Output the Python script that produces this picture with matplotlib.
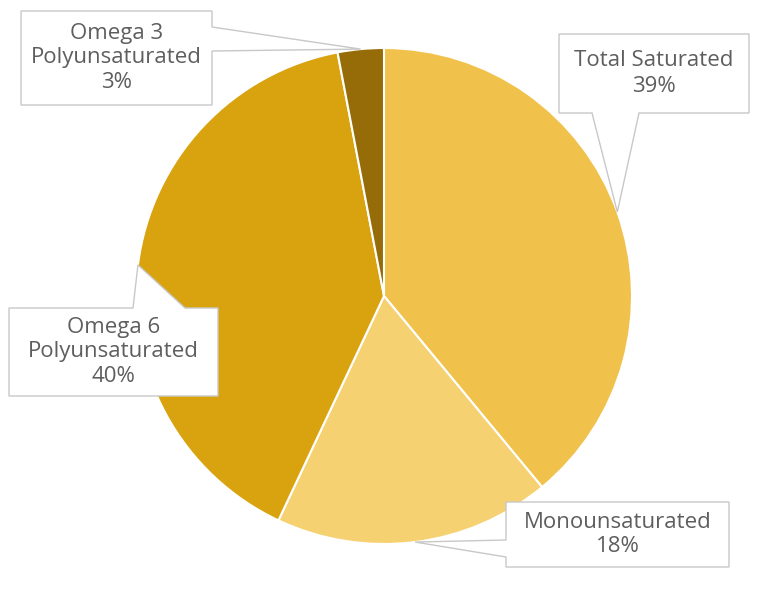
import numpy as np
import matplotlib.pyplot as plt
from matplotlib.patches import Polygon

labels = ['Total Saturated', 'Monounsaturated', 'Omega 6\nPolyunsaturated', 'Omega 3\nPolyunsaturated']
values = [39, 18, 40, 3]
colors = ['#F0C24B', '#F5D172', '#D9A30F', '#966C08']

W, H = 768, 592
CX, CY, R = 384, 296, 248


def fy(y):
    # pixel row (top-down) -> data y
    return H - y


fig = plt.figure(figsize=(W / 100, H / 100), dpi=100)
ax = fig.add_axes([0, 0, 1, 1])

ax.pie(values, colors=colors, startangle=90, counterclock=False,
       center=(CX, fy(CY)), radius=R,
       wedgeprops=dict(edgecolor='white', linewidth=1.5))

# slice midpoints on the rim -> callout tips
total = sum(values)
cum = np.cumsum([0] + values)
tips = []
for i in range(len(values)):
    mid = (cum[i] + cum[i + 1]) / 2 / total
    ang = np.deg2rad(90 - mid * 360)
    tips.append((CX + R * np.cos(ang), fy(CY) + R * np.sin(ang)))

# callout boxes: (left, top, right, bottom) in pixels, pointer side and base
boxes = [
    ((559, 34, 749, 113), 'bottom', (592, 639)),
    ((506, 502, 729, 567), 'left', (540, 557)),
    ((9, 308, 218, 396), 'top', (133, 185)),
    ((21, 11, 212, 105), 'right', (27, 51)),
]

for i, ((l, t, r, b), side, (p1, p2)) in enumerate(boxes):
    tx, ty = tips[i]
    if side == 'bottom':
        pts = [(l, t), (r, t), (r, b), (p2, b), None, (p1, b), (l, b)]
    elif side == 'left':
        pts = [(l, t), (r, t), (r, b), (l, b), (l, p2), None, (l, p1)]
    elif side == 'top':
        pts = [(l, t), (p1, t), None, (p2, t), (r, t), (r, b), (l, b)]
    else:
        pts = [(l, t), (r, t), (r, p1), None, (r, p2), (r, b), (l, b)]
    poly = [(tx, ty) if p is None else (p[0], fy(p[1])) for p in pts]
    ax.add_patch(Polygon(poly, closed=True, facecolor='white',
                         edgecolor='#C8C8C8', linewidth=1.0, zorder=5))
    ax.text((l + r) / 2, fy((t + b) / 2), f'{labels[i]}\n{values[i]}%',
            ha='center', va='center', fontsize=16, color='#5E5E5E',
            family='Open Sans', linespacing=1.25, zorder=6)

ax.set_xlim(0, W)
ax.set_ylim(0, H)
ax.set_aspect('equal')
ax.axis('off')

fig.savefig('out.png', dpi=100)
